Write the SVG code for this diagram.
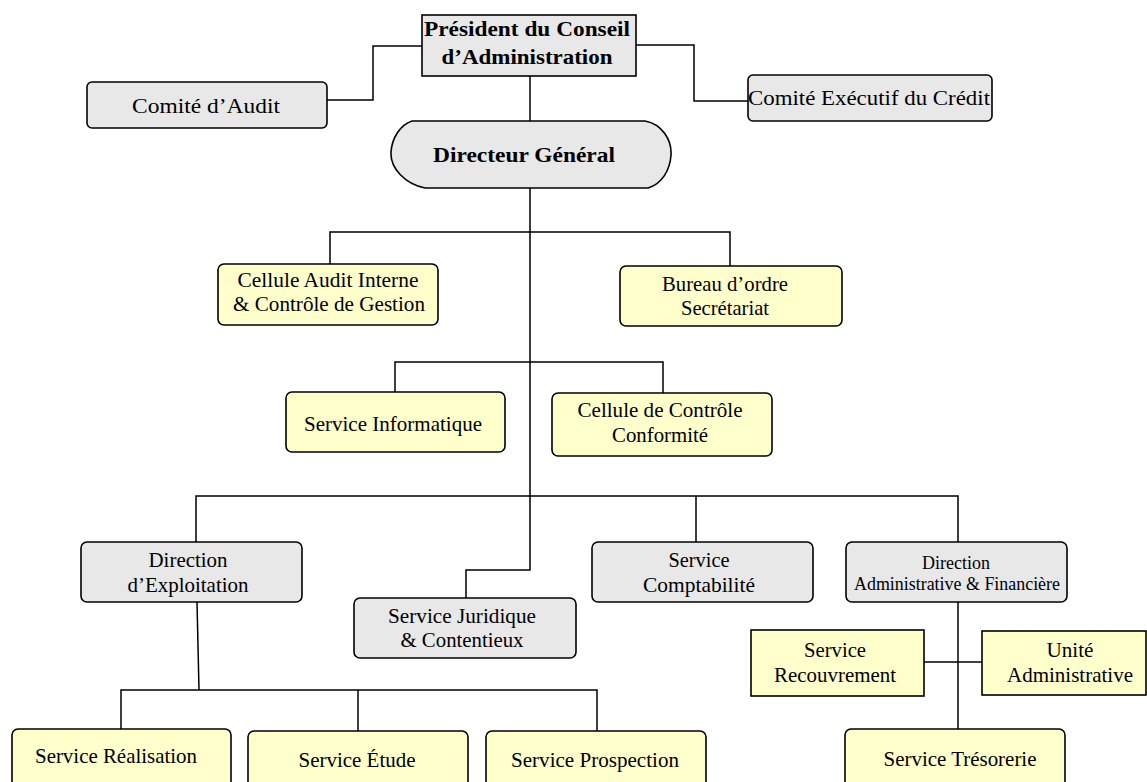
<svg xmlns="http://www.w3.org/2000/svg" width="1147" height="782" viewBox="0 0 1147 782">
<style>
.g{fill:#e8e8e8;stroke:#000;stroke-width:1.6}
.y{fill:#ffffcc;stroke:#000;stroke-width:1.6}
.c{fill:none;stroke:#000;stroke-width:1.5}
text{font-family:"Liberation Serif","Times New Roman",serif;font-size:21px;fill:#000;text-anchor:middle}
.b{font-weight:bold;font-size:22px}
.s{font-size:18px}
</style>
<rect width="1147" height="782" fill="#fff"/>
<g id="connectors">
<polyline class="c" points="422,46 373,46 373,100 327,100"/>
<polyline class="c" points="636,45 694,45 694,101 748,101"/>
<line class="c" x1="530" y1="76" x2="530" y2="121"/>
<polyline class="c" points="530,188 530,570 466,570 466,598"/>
<polyline class="c" points="330,264 330,232 730,232 730,266"/>
<polyline class="c" points="395,392 395,362 663,362 663,393"/>
<polyline class="c" points="196,542 196,496 958,496 958,542"/>
<line class="c" x1="696" y1="496" x2="696" y2="542"/>
<line class="c" x1="197" y1="602" x2="199" y2="690"/>
<polyline class="c" points="121,729 121,690 597,690 597,731"/>
<line class="c" x1="358" y1="690" x2="358" y2="731"/>
<line class="c" x1="958" y1="602" x2="958" y2="729"/>
<line class="c" x1="924" y1="662" x2="982" y2="662"/>
</g>
<g id="president">
<rect class="g" x="422" y="15" width="214" height="61"/>
<text class="b" x="527" y="36" textLength="206" lengthAdjust="spacingAndGlyphs">Président du Conseil</text>
<text class="b" x="527" y="64" textLength="171" lengthAdjust="spacingAndGlyphs">d’Administration</text>
</g>
<g id="comite-audit">
<rect class="g" x="87" y="82" width="240" height="46" rx="5"/>
<text x="206" y="113" textLength="148" lengthAdjust="spacingAndGlyphs">Comité d’Audit</text>
</g>
<g id="comite-executif">
<rect class="g" x="748" y="75" width="244" height="46" rx="5"/>
<text x="869" y="105" textLength="242" lengthAdjust="spacingAndGlyphs">Comité Exécutif du Crédit</text>
</g>
<g id="directeur-general">
<path class="g" d="M412,121 L645,121 C662,124 672,140 671,155 C670,170 662,184 648,188 L425,188 C405,184 390,168 391,152 C392,138 400,125 412,121 Z"/>
<text class="b" x="524" y="162" textLength="182" lengthAdjust="spacingAndGlyphs">Directeur Général</text>
</g>
<g id="cellule-audit">
<rect class="y" x="218" y="264" width="220" height="61" rx="6"/>
<text x="328" y="287" textLength="181" lengthAdjust="spacingAndGlyphs">Cellule Audit Interne</text>
<text x="329" y="311" textLength="192" lengthAdjust="spacingAndGlyphs">&amp; Contrôle de Gestion</text>
</g>
<g id="bureau-ordre">
<rect class="y" x="620" y="266" width="222" height="60" rx="6"/>
<text x="725" y="291" textLength="126" lengthAdjust="spacingAndGlyphs">Bureau d’ordre</text>
<text x="725" y="315" textLength="88" lengthAdjust="spacingAndGlyphs">Secrétariat</text>
</g>
<g id="service-informatique">
<rect class="y" x="286" y="392" width="219" height="60" rx="6"/>
<text x="393" y="431" textLength="178" lengthAdjust="spacingAndGlyphs">Service Informatique</text>
</g>
<g id="cellule-controle">
<rect class="y" x="552" y="393" width="220" height="63" rx="6"/>
<text x="660" y="417" textLength="165" lengthAdjust="spacingAndGlyphs">Cellule de Contrôle</text>
<text x="660" y="442" textLength="96" lengthAdjust="spacingAndGlyphs">Conformité</text>
</g>
<g id="direction-exploitation">
<rect class="g" x="81" y="542" width="221" height="60" rx="6"/>
<text x="188" y="567" textLength="79" lengthAdjust="spacingAndGlyphs">Direction</text>
<text x="188" y="592" textLength="121" lengthAdjust="spacingAndGlyphs">d’Exploitation</text>
</g>
<g id="service-juridique">
<rect class="g" x="354" y="598" width="222" height="60" rx="6"/>
<text x="462" y="623" textLength="148" lengthAdjust="spacingAndGlyphs">Service Juridique</text>
<text x="462" y="647" textLength="123" lengthAdjust="spacingAndGlyphs">&amp; Contentieux</text>
</g>
<g id="service-comptabilite">
<rect class="g" x="592" y="542" width="221" height="60" rx="6"/>
<text x="699" y="567" textLength="61" lengthAdjust="spacingAndGlyphs">Service</text>
<text x="699" y="592" textLength="112" lengthAdjust="spacingAndGlyphs">Comptabilité</text>
</g>
<g id="direction-administrative">
<rect class="g" x="846" y="542" width="221" height="60" rx="6"/>
<text class="s" x="956" y="569" textLength="68" lengthAdjust="spacingAndGlyphs">Direction</text>
<text class="s" x="957" y="590" textLength="206" lengthAdjust="spacingAndGlyphs">Administrative &amp; Financière</text>
</g>
<g id="service-recouvrement">
<rect class="y" x="751" y="630" width="173" height="66"/>
<text x="835" y="657" textLength="62" lengthAdjust="spacingAndGlyphs">Service</text>
<text x="835" y="682" textLength="122" lengthAdjust="spacingAndGlyphs">Recouvrement</text>
</g>
<g id="unite-administrative">
<rect class="y" x="982" y="631" width="164" height="64"/>
<text x="1070" y="657" textLength="47" lengthAdjust="spacingAndGlyphs">Unité</text>
<text x="1070" y="682" textLength="126" lengthAdjust="spacingAndGlyphs">Administrative</text>
</g>
<g id="service-tresorerie">
<rect class="y" x="845" y="729" width="220" height="66" rx="6"/>
<text x="960" y="766" textLength="153" lengthAdjust="spacingAndGlyphs">Service Trésorerie</text>
</g>
<g id="service-realisation">
<rect class="y" x="12" y="729" width="219" height="66" rx="6"/>
<text x="116" y="763" textLength="162" lengthAdjust="spacingAndGlyphs">Service Réalisation</text>
</g>
<g id="service-etude">
<rect class="y" x="248" y="731" width="220" height="66" rx="6"/>
<text x="357" y="767" textLength="117" lengthAdjust="spacingAndGlyphs">Service Étude</text>
</g>
<g id="service-prospection">
<rect class="y" x="486" y="731" width="220" height="66" rx="6"/>
<text x="595" y="767" textLength="168" lengthAdjust="spacingAndGlyphs">Service Prospection</text>
</g>
</svg>
